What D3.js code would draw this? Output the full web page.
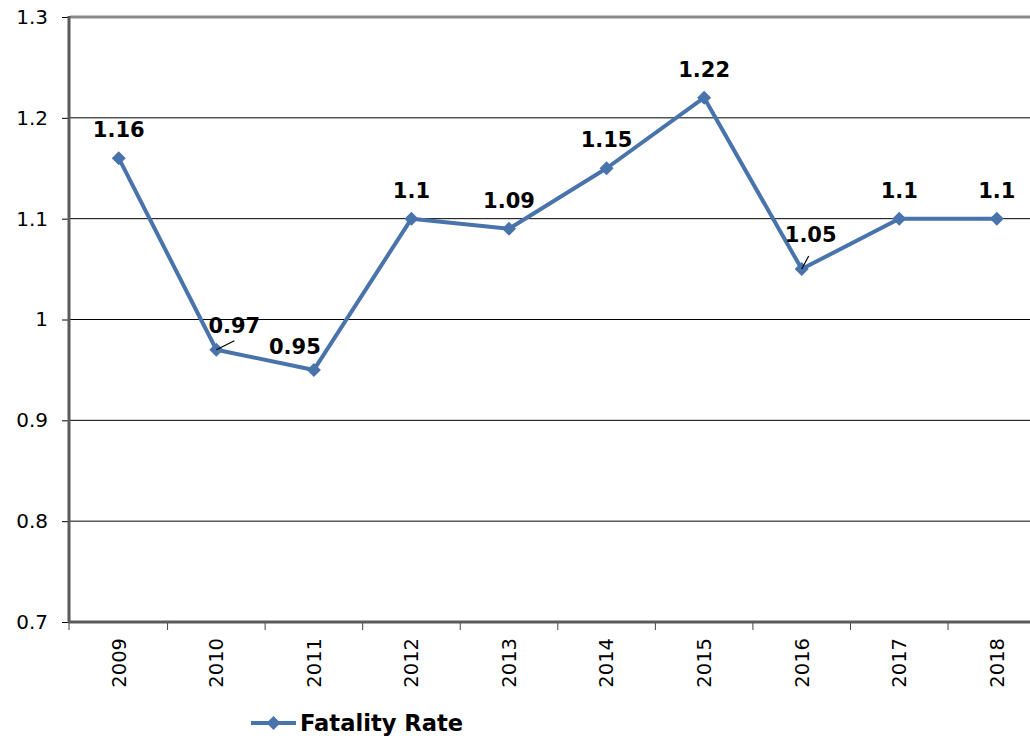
<!DOCTYPE html>
<meta charset="utf-8" />
<style>
  body { margin: 0; background: #fff; }
  text { font-family: "DejaVu Sans", Verdana, sans-serif; }
</style>
<svg width="1030" height="740"></svg>
<script src="https://d3js.org/d3.v7.min.js"></script>
<script>
  // chart data
  var years = ["2009", "2010", "2011", "2012", "2013", "2014", "2015", "2016", "2017", "2018"];
  var fatalityRate = [1.16, 0.97, 0.95, 1.1, 1.09, 1.15, 1.22, 1.05, 1.1, 1.1];
  var yTicks = [0.7, 0.8, 0.9, 1, 1.1, 1.2, 1.3];
  var seriesName = "Fatality Rate";
  // label nudges [dx, dy] for the few labels that were moved off the default spot
  var labelNudge = [[0, 0], [18, 4], [-19, 5], [0, 0], [0, 0], [0, 0], [0, 0], [9, -6], [0, 0], [0, 0]];

  var svg = d3.select("svg");
  var plotLeft = 70, plotRight = 1045.6, plotTop = 17, plotBottom = 622;
  var blue = "#4873ab";

  var x = d3.scaleBand().domain(years).range([plotLeft, plotRight]);
  var y = d3.scaleLinear().domain([0.7, 1.3]).range([plotBottom, plotTop]);

  // gridlines
  svg.append("g")
    .selectAll("line")
    .data(yTicks.filter(function(t) { return t > 0.7 && t < 1.3; }))
    .enter()
    .append("line")
    .attr("x1", plotLeft).attr("x2", plotRight)
    .attr("y1", function(d) { return y(d); })
    .attr("y2", function(d) { return y(d); })
    .attr("stroke", "#000")
    .attr("stroke-width", 1);

  // top border
  svg.append("line")
    .attr("x1", plotLeft).attr("x2", plotRight)
    .attr("y1", y(1.3)).attr("y2", y(1.3))
    .attr("stroke", "#8a8a8a").attr("stroke-width", 3);

  // y axis
  var yAxis = svg.append("g")
    .attr("transform", "translate(" + plotLeft + ",0)")
    .call(d3.axisLeft(y).tickValues(yTicks).tickSize(8).tickPadding(14)
      .tickFormat(function(d) { return String(+d.toFixed(1)); }));
  yAxis.select(".domain").remove();
  yAxis.selectAll(".tick line").attr("stroke", "#000");
  yAxis.selectAll("text").attr("font-size", 20).attr("fill", "#000")
    .attr("font-family", "'DejaVu Sans', Verdana, sans-serif");
  svg.append("line")
    .attr("x1", plotLeft - 1).attr("x2", plotLeft - 1)
    .attr("y1", plotTop - 1).attr("y2", plotBottom + 1)
    .attr("stroke", "#5a5a5a").attr("stroke-width", 3);

  // x axis
  var xAxis = svg.append("g")
    .attr("transform", "translate(0," + plotBottom + ")")
    .call(d3.axisBottom(x).tickSize(0));
  xAxis.select(".domain").remove();
  xAxis.selectAll("text")
    .attr("font-size", 19.5).attr("fill", "#000")
    .attr("font-family", "'DejaVu Sans', Verdana, sans-serif")
    .attr("transform", "rotate(-90)")
    .attr("text-anchor", "end")
    .attr("x", -16).attr("y", 0).attr("dy", "0.35em");
  svg.append("g")
    .selectAll("line")
    .data(d3.range(years.length + 1))
    .enter()
    .append("line")
    .attr("x1", function(i) { return plotLeft - (i === 0 ? 1 : 0) + i * x.step(); })
    .attr("x2", function(i) { return plotLeft - (i === 0 ? 1 : 0) + i * x.step(); })
    .attr("y1", plotBottom).attr("y2", plotBottom + 8)
    .attr("stroke", "#444").attr("stroke-width", 1);
  svg.append("line")
    .attr("x1", plotLeft - 2).attr("x2", plotRight)
    .attr("y1", plotBottom).attr("y2", plotBottom)
    .attr("stroke", "#5a5a5a").attr("stroke-width", 3);

  var points = years.map(function(yr, i) {
    return { year: yr, value: fatalityRate[i], nudge: labelNudge[i] };
  });
  var cx = function(d) { return x(d.year) + x.bandwidth() / 2; };

  // series line
  svg.append("path")
    .datum(points)
    .attr("fill", "none")
    .attr("stroke", blue)
    .attr("stroke-width", 4)
    .attr("stroke-linejoin", "round")
    .attr("d", d3.line().x(cx).y(function(d) { return y(d.value); }));

  var diamond = "M0,-7L7,0L0,7L-7,0Z";
  svg.append("g")
    .selectAll("path")
    .data(points)
    .enter()
    .append("path")
    .attr("d", diamond)
    .attr("fill", blue)
    .attr("transform", function(d) { return "translate(" + cx(d) + "," + y(d.value) + ")"; });

  // leader lines for moved labels
  svg.append("g")
    .selectAll("line")
    .data(points.filter(function(d) { return d.year === "2010" || d.year === "2016"; }))
    .enter()
    .append("line")
    .attr("x1", cx)
    .attr("y1", function(d) { return y(d.value); })
    .attr("x2", function(d) { return d.year === "2010" ? cx(d) + 18 : cx(d) + 7; })
    .attr("y2", function(d) { return d.year === "2010" ? y(d.value) - 9 : y(d.value) - 13; })
    .attr("stroke", "#000").attr("stroke-width", 1.2);

  // data labels
  svg.append("g")
    .selectAll("text")
    .data(points)
    .enter()
    .append("text")
    .attr("x", function(d) { return cx(d) + d.nudge[0]; })
    .attr("y", function(d) { return y(d.value) - 21 + d.nudge[1]; })
    .attr("text-anchor", "middle")
    .attr("font-size", 21)
    .attr("font-weight", "bold")
    .text(function(d) { return d.value; });

  // legend
  var legend = svg.append("g").attr("transform", "translate(251,723)");
  legend.append("line").attr("x1", 0).attr("x2", 45)
    .attr("stroke", blue).attr("stroke-width", 4);
  legend.append("path").attr("d", diamond).attr("fill", blue)
    .attr("transform", "translate(22.5,0)");
  legend.append("text").attr("x", 49).attr("y", 8)
    .attr("font-size", 22.6).attr("font-weight", "bold")
    .text(seriesName);
</script>
